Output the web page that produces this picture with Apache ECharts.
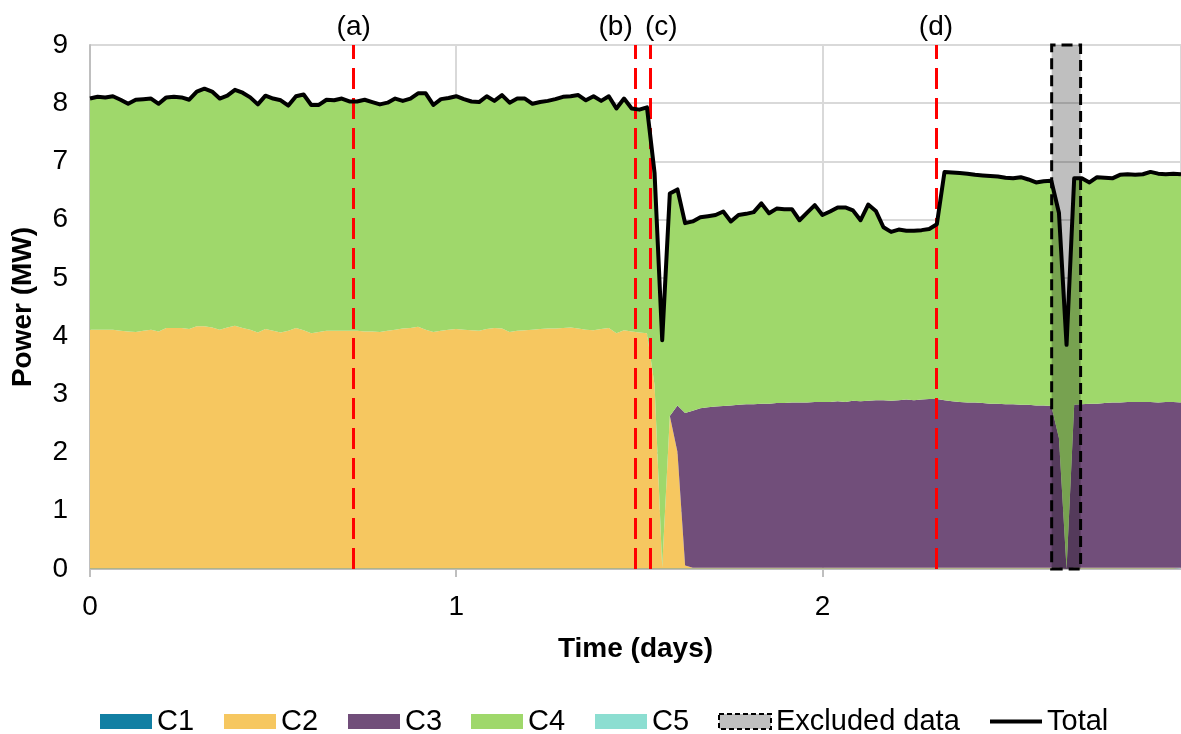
<!DOCTYPE html>
<html>
<head>
<meta charset="utf-8">
<script src="https://cdn.jsdelivr.net/npm/echarts@6/dist/echarts.min.js"></script>
<style>
html, body { margin: 0; padding: 0; background: #fff; }
#chart1 { width: 1181px; height: 734px; }
</style>
</head>
<body>
<div id="chart1"></div>
<script>
// sampling interval of the logged data: 30 min, expressed in days
var step = 1 / 48;

var total = [8.08,8.11,8.10,8.12,8.06,7.99,8.06,8.07,8.08,7.99,8.10,8.11,8.10,8.06,8.20,8.25,8.20,8.08,8.13,8.23,
	8.18,8.10,7.98,8.13,8.08,8.05,7.96,8.12,8.15,7.97,7.97,8.06,8.05,8.08,8.03,8.03,8.06,8.02,7.98,8.01,
	8.08,8.04,8.08,8.17,8.17,7.97,8.07,8.09,8.12,8.07,8.03,8.02,8.12,8.04,8.14,8.01,8.08,8.08,7.99,8.02,
	8.04,8.07,8.11,8.12,8.14,8.05,8.12,8.04,8.12,7.91,8.08,7.91,7.89,7.93,6.80,3.93,6.45,6.52,5.94,5.97,
	6.04,6.06,6.08,6.14,5.97,6.08,6.10,6.13,6.28,6.11,6.19,6.18,6.18,5.99,6.12,6.25,6.08,6.14,6.21,6.21,
	6.16,5.99,6.26,6.15,5.87,5.79,5.83,5.81,5.81,5.82,5.84,5.92,6.82,6.81,6.80,6.79,6.77,6.76,6.75,6.74,
	6.72,6.71,6.73,6.69,6.64,6.66,6.67,6.12,3.85,6.71,6.71,6.64,6.73,6.72,6.71,6.77,6.78,6.77,6.78,6.82,
	6.79,6.78,6.79,6.78];

var c1 = [0.01,0.01,0.01,0.01,0.01,0.01,0.01,0.01,0.01,0.01,0.01,0.01,0.01,0.01,0.01,0.01,0.01,0.01,0.01,0.01,
	0.01,0.01,0.01,0.01,0.01,0.01,0.01,0.01,0.01,0.01,0.01,0.01,0.01,0.01,0.01,0.01,0.01,0.01,0.01,0.01,
	0.01,0.01,0.01,0.01,0.01,0.01,0.01,0.01,0.01,0.01,0.01,0.01,0.01,0.01,0.01,0.01,0.01,0.01,0.01,0.01,
	0.01,0.01,0.01,0.01,0.01,0.01,0.01,0.01,0.01,0.01,0.01,0.01,0.01,0.01,0.01,0.01,0.01,0.01,0.01,0.01,
	0.01,0.01,0.01,0.01,0.01,0.01,0.01,0.01,0.01,0.01,0.01,0.01,0.01,0.01,0.01,0.01,0.01,0.01,0.01,0.01,
	0.01,0.01,0.01,0.01,0.01,0.01,0.01,0.01,0.01,0.01,0.01,0.01,0.01,0.01,0.01,0.01,0.01,0.01,0.01,0.01,
	0.01,0.01,0.01,0.01,0.01,0.01,0.01,0.01,0,0.01,0.01,0.01,0.01,0.01,0.01,0.01,0.01,0.01,0.01,0.01,
	0.01,0.01,0.01,0.01];

var c2 = [4.10,4.10,4.10,4.10,4.08,4.07,4.06,4.08,4.10,4.07,4.13,4.13,4.13,4.11,4.16,4.16,4.14,4.10,4.14,4.17,
	4.13,4.10,4.05,4.11,4.08,4.05,4.08,4.13,4.09,4.04,4.06,4.08,4.08,4.08,4.08,4.08,4.07,4.07,4.06,4.08,
	4.10,4.12,4.13,4.15,4.10,4.06,4.08,4.10,4.11,4.10,4.09,4.08,4.11,4.13,4.12,4.06,4.08,4.09,4.10,4.11,
	4.12,4.12,4.13,4.14,4.12,4.10,4.09,4.11,4.13,4.04,4.09,4.07,4.05,4.04,3.15,0.02,2.62,2.00,0.05,0.01,
	0.01,0.01,0.01,0.01,0.01,0.01,0.01,0.01,0.01,0.01,0.01,0.01,0.01,0.01,0.01,0.01,0.01,0.01,0.01,0.01,
	0.01,0.01,0.01,0.01,0.01,0.01,0.01,0.01,0.01,0.01,0.01,0.01,0.01,0.01,0.01,0.01,0.01,0.01,0.01,0.01,
	0.01,0.01,0.01,0.01,0.01,0.01,0.01,0.01,0,0.01,0.01,0.01,0.01,0.01,0.01,0.01,0.01,0.01,0.01,0.01,
	0.01,0.01,0.01,0.01];

var c3 = [0,0,0,0,0,0,0,0,0,0,0,0,0,0,0,0,0,0,0,0,
	0,0,0,0,0,0,0,0,0,0,0,0,0,0,0,0,0,0,0,0,
	0,0,0,0,0,0,0,0,0,0,0,0,0,0,0,0,0,0,0,0,
	0,0,0,0,0,0,0,0,0,0,0,0,0,0,0,0,0,0.80,2.62,2.70,
	2.74,2.76,2.77,2.78,2.79,2.80,2.81,2.81,2.82,2.82,2.83,2.83,2.84,2.84,2.84,2.85,2.85,2.85,2.86,2.85,
	2.87,2.86,2.87,2.88,2.88,2.87,2.88,2.89,2.88,2.89,2.90,2.90,2.88,2.86,2.85,2.84,2.84,2.83,2.82,2.82,
	2.81,2.81,2.80,2.80,2.79,2.79,2.78,2.23,0,2.80,2.81,2.82,2.82,2.83,2.84,2.84,2.85,2.85,2.85,2.85,
	2.84,2.85,2.85,2.84];

var c4 = [3.97,4.00,3.99,4.01,3.97,3.91,3.99,3.98,3.97,3.91,3.96,3.97,3.96,3.94,4.03,4.08,4.05,3.97,3.98,4.05,
	4.04,3.99,3.92,4.01,3.99,3.99,3.87,3.98,4.05,3.92,3.90,3.97,3.96,3.99,3.94,3.94,3.98,3.94,3.91,3.92,
	3.97,3.91,3.94,4.01,4.06,3.90,3.98,3.98,4.00,3.96,3.93,3.93,4.00,3.90,4.01,3.94,3.99,3.98,3.88,3.90,
	3.91,3.94,3.97,3.97,4.01,3.94,4.02,3.92,3.98,3.86,3.98,3.83,3.83,3.88,3.64,3.90,3.82,3.71,3.26,3.25,
	3.28,3.28,3.29,3.34,3.16,3.26,3.27,3.30,3.44,3.27,3.34,3.33,3.32,3.13,3.26,3.38,3.21,3.27,3.33,3.34,
	3.27,3.11,3.37,3.25,2.97,2.90,2.93,2.90,2.91,2.91,2.92,3.00,3.92,3.93,3.93,3.93,3.91,3.91,3.91,3.90,
	3.89,3.88,3.91,3.87,3.83,3.85,3.87,3.87,3.85,3.89,3.88,3.80,3.89,3.87,3.85,3.91,3.91,3.90,3.91,3.95,
	3.93,3.91,3.92,3.92];

var c5 = [0,0,0,0,0,0,0,0,0,0,0,0,0,0,0,0,0,0,0,0,
	0,0,0,0,0,0,0,0,0,0,0,0,0,0,0,0,0,0,0,0,
	0,0,0,0,0,0,0,0,0,0,0,0,0,0,0,0,0,0,0,0,
	0,0,0,0,0,0,0,0,0,0,0,0,0,0,0,0,0,0,0,0,
	0,0,0,0,0,0,0,0,0,0,0,0,0,0,0,0,0,0,0,0,
	0,0,0,0,0,0,0,0,0,0,0,0,0,0,0,0,0,0,0,0,
	0,0,0,0,0,0,0,0,0,0,0,0,0,0,0,0,0,0,0,0,
	0,0,0,0];

var eventTimes = [0.724, 1.486, 1.527, 2.314];
var eventLabels = ['(a)', '(b)', '(c)', '(d)'];
var eventLabelShift = [0, -20, 11, 0];
var excluded = [2.626, 2.705];

var names = ['C1', 'C2', 'C3', 'C4', 'C5'];
var stacks = [c1, c2, c3, c4, c5];
var colors = ['#127fa3', '#f6c760', '#714e7a', '#9fd86b', '#8cded1'];

var font = 'Liberation Sans, Arial, sans-serif';

// sample times (days) for the hidden category axis that carries the stacked areas
var times = total.map(function (v, i) { return (i * step).toFixed(4); });

var series = names.map(function (n, k) {
	return {
		name: n,
		type: 'line',
		xAxisIndex: 1,
		stack: 'power',
		data: stacks[k],
		symbol: 'none',
		color: colors[k],
		lineStyle: { width: 0 },
		areaStyle: { color: colors[k], opacity: 1 },
		z: 2
	};
});

series.push({
	name: 'Excluded data',
	type: 'line',
	xAxisIndex: 0,
	data: [],
	symbol: 'none',
	z: 3,
	markArea: {
		silent: true,
		z: 3,
		itemStyle: {
			color: 'rgba(0,0,0,0.25)',
			borderColor: '#000',
			borderWidth: 3,
			borderType: [11, 6]
		},
		data: [[{ xAxis: excluded[0], yAxis: 0 }, { xAxis: excluded[1], yAxis: 9 }]]
	}
});

series.push({
	name: 'Total',
	type: 'line',
	xAxisIndex: 1,
	data: total,
	symbol: 'none',
	color: '#000',
	lineStyle: { color: '#000', width: 4, join: 'round' },
	z: 5
});

series.push({
	name: 'events',
	type: 'line',
	xAxisIndex: 0,
	data: [],
	symbol: 'none',
	z: 4,
	markLine: {
		silent: true,
		symbol: 'none',
		lineStyle: { color: '#ff0000', width: 3, type: [21, 9] },
		label: {
			show: true,
			position: 'end',
			formatter: '{b}',
			color: '#000',
			fontSize: 28,
			fontFamily: font,
			distance: 4
		},
		data: eventTimes.map(function (t, i) {
			return { xAxis: t, name: eventLabels[i], label: { offset: [eventLabelShift[i], 0] } };
		})
	}
});

var legendNames = ['C1', 'C2', 'C3', 'C4', 'C5', 'Excluded data', 'Total'];
var legendLeft = [95, 219, 343, 466, 590, 713, 985];

var legends = legendNames.map(function (n, i) {
	var item = { name: n, icon: 'rect' };
	var h = 15;
	if (i < 5) {
		item.itemStyle = { color: colors[i], borderWidth: 0 };
	} else if (n === 'Excluded data') {
		item.itemStyle = { color: '#bfbfbf', borderColor: '#000', borderWidth: 2, borderType: [5, 3] };
	} else {
		item.itemStyle = { color: '#000', borderWidth: 0 };
		h = 4;
	}
	return {
		data: [item],
		left: legendLeft[i],
		top: 702,
		itemWidth: 52,
		itemHeight: h,
		selectedMode: false,
		textStyle: { fontSize: 29, fontFamily: font, color: '#000' }
	};
});

var option = {
	animation: false,
	backgroundColor: '#fff',
	grid: { left: 90, right: 0, top: 45, bottom: 165 },
	legend: legends,
	xAxis: [{
		type: 'value',
		min: 0,
		max: 143 * step,
		interval: 1,
		name: 'Time (days)',
		nameLocation: 'middle',
		nameGap: 66,
		nameTextStyle: { fontSize: 28, fontWeight: 'bold', fontFamily: font, color: '#000' },
		axisLine: { show: true, lineStyle: { color: '#bfbfbf', width: 2 } },
		axisTick: { show: true, length: 8, lineStyle: { color: '#bfbfbf', width: 2 } },
		axisLabel: { fontSize: 28, fontFamily: font, color: '#000', margin: 24, showMaxLabel: false },
		splitLine: { show: true, lineStyle: { color: '#d9d9d9', width: 2 } }
	}, {
		type: 'category',
		data: times,
		boundaryGap: false,
		position: 'bottom',
		show: false
	}],
	yAxis: {
		type: 'value',
		min: 0,
		max: 9,
		interval: 1,
		name: 'Power (MW)',
		nameLocation: 'middle',
		nameGap: 53,
		nameTextStyle: { fontSize: 28, fontWeight: 'bold', fontFamily: font, color: '#000' },
		axisLine: { show: true, lineStyle: { color: '#bfbfbf', width: 2 } },
		axisTick: { show: false },
		axisLabel: { fontSize: 28, fontFamily: font, color: '#000', margin: 22 },
		splitLine: { show: true, lineStyle: { color: '#d9d9d9', width: 2 } }
	},
	series: series
};

var chart1 = echarts.init(document.getElementById('chart1'));
chart1.setOption(option);
</script>
</body>
</html>
